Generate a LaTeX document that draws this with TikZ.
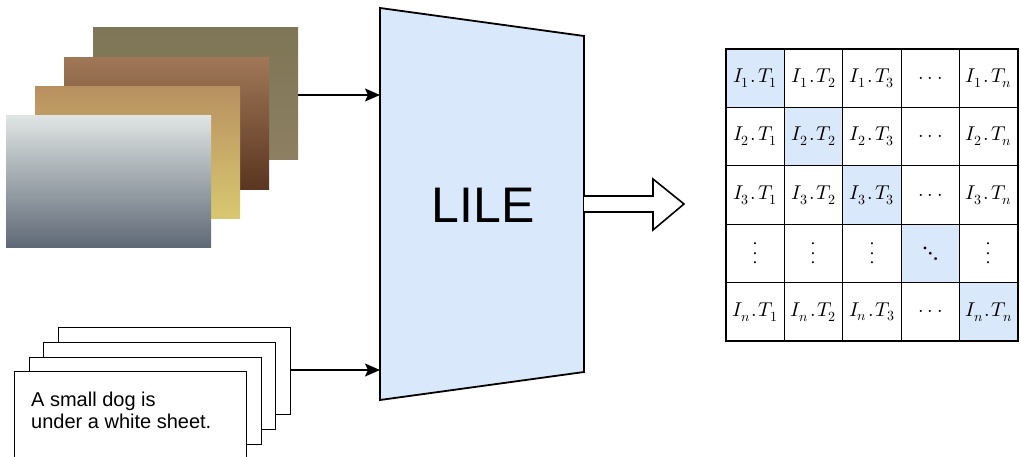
\documentclass[tikz,border=0pt]{standalone}
\usepackage{amsmath}
\usepackage{graphicx}
\usepackage{fontspec}
\usepackage{unicode-math}
\setmathfont{Latin Modern Math}
\setsansfont{Liberation Sans}
\usetikzlibrary{arrows.meta}
\definecolor{LightBlue}{HTML}{DAE8FC}
\definecolor{CarpetTop}{HTML}{7E7656}
\definecolor{CarpetBot}{HTML}{8D7F62}
\definecolor{WoodTop}{HTML}{A07858}
\definecolor{WoodBot}{HTML}{5A3520}
\definecolor{RoomTop}{HTML}{B89060}
\definecolor{RoomMid}{HTML}{6A4A38}
\definecolor{RoomBot}{HTML}{D8C870}
\definecolor{DogTop}{HTML}{E0E6E4}
\definecolor{DogMid}{HTML}{B5BDB8}
\definecolor{DogBot}{HTML}{5F6876}
\newcommand\wdots{.\mkern3.5mu.\mkern3.5mu.}

\begin{document}
\begin{tikzpicture}[x=1pt,y=-1pt,
    photo/.style={anchor=north west,minimum width=205pt,minimum height=132pt,inner sep=0pt},
    page/.style={draw,fill=white,line width=1.2pt,anchor=north west,minimum width=232pt,minimum height=87pt,inner sep=0pt},
    cell/.style={draw,line width=1.2pt,minimum size=58.4pt,inner sep=0pt,font=\fontsize{20}{24}\selectfont},
    feed/.style={line width=1.8pt,-{Stealth[length=15pt,width=13pt,inset=3pt]}}]
      \useasboundingbox (0,0) rectangle (1021,457);
      \clip (0,0) rectangle (1021,457);
      % image stack
      \node[photo,top color=CarpetTop,bottom color=CarpetBot] (img4) at (93,27) {};
      \node[photo,top color=WoodTop,bottom color=WoodBot] (img3) at (64,57) {};
      \node[photo,top color=RoomTop,middle color=RoomMid,bottom color=RoomBot] (img2) at (35,86) {};
      \node[photo,top color=DogTop,middle color=DogMid,bottom color=DogBot] (img1) at (6,115) {};
      % caption stack
      \node[page] (page4) at (58,327) {};
      \node[page] (page3) at (43,342) {};
      \node[page] (page2) at (29,357) {};
      \node[page,minimum height=100pt] (page1) at (14,371) {};
      \node[anchor=north west,inner sep=0pt,align=left,font=\sffamily\fontsize{20}{21.5}\selectfont] (caption) at (31,392) {A small dog is\\under a white sheet.};
      % encoder
      \draw[line width=1.8pt,fill=LightBlue] (380,8) -- (584,36) -- (584,372) -- (380,400) -- cycle;
      \node[font=\sffamily\fontsize{50}{60}\selectfont] (lile) at (483,205) {LILE};
      \coordinate (inA) at (380,95);
      \coordinate (inB) at (380,370);
      \draw[feed] (img4.east |- inA) -- (inA);
      \draw[feed] (page4.east |- inB) -- (inB);
      \draw[line width=1.6pt,fill=white] (584,196) -- (653,196) -- (653,179) -- (684,204) -- (653,230) -- (653,212) -- (584,212);
      % similarity matrix
      \foreach \r/\a in {1/1,2/2,3/3,4/,5/n}
        \foreach \c/\b in {1/1,2/2,3/3,4/,5/n}{
          \pgfmathparse{\r==\c ? "LightBlue" : "white"}
          \let\cellfill\pgfmathresult
          \node[cell,fill=\cellfill] (cell-\r-\c) at ({726+58.4*(\c-0.5)},{49+58.4*(\r-0.5)})
            {\ifnum\r=4 \ifnum\c=4 \scalebox{1.35}{$\ddots$}\else\rotatebox{90}{$\wdots$}\fi\else$\ifnum\c=4 \wdots\else I_{\a}\mkern1.5mu.\mkern1.5mu T_{\b}\fi$\fi};
        }
\end{tikzpicture}
\end{document}
